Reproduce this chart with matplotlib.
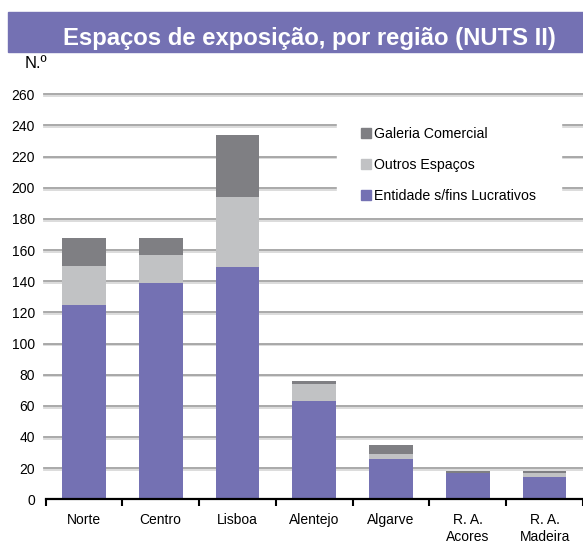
import matplotlib.pyplot as plt
import matplotlib.patheffects as pe
from matplotlib.patches import Rectangle, Patch
import numpy as np

plt.rcParams['font.family'] = ['Liberation Sans', 'DejaVu Sans']

regions = ["Norte", "Centro", "Lisboa", "Alentejo", "Algarve", "R. A.\nAcores", "R. A.\nMadeira"]
entidade = [125, 139, 149, 63, 26, 17, 14]
outros = [25, 18, 45, 11, 3, 0, 3]
galeria = [18, 11, 40, 2, 6, 1, 1]
yticks = list(range(0, 261, 20))

PURPLE = "#7471b3"
LIGHT = "#c1c2c4"
DARK = "#7f7f83"

W, H = 583, 545
fig = plt.figure(figsize=(W / 100, H / 100), dpi=100)
fig.patch.set_facecolor("white")

# title band
fig.patches.append(Rectangle((8 / W, 1 - 52.3 / H), 1, 40.3 / H, transform=fig.transFigure,
                             color=PURPLE, zorder=0))
fig.text(309.5 / W, 1 - 45 / H, "Espaços de exposição, por região (NUTS II)", color="white",
         fontsize=17.2, fontweight="bold", ha="center", va="baseline")
fig.text(25 / W, 1 - 68 / H, "N.º", fontsize=12, ha="left", va="baseline")

ax = fig.add_axes([45.5 / W, 45.7 / H, (W - 45.5) / W, (499.3 - 94.3) / H])
x = np.arange(len(regions))
bw = 0.57
bottom2 = np.array(entidade)
bottom3 = bottom2 + np.array(outros)
ax.bar(x, entidade, bw, color=PURPLE, zorder=3)
ax.bar(x, outros, bw, bottom=bottom2, color=LIGHT, zorder=3)
ax.bar(x, galeria, bw, bottom=bottom3, color=DARK, zorder=3)

for v in yticks[1:]:
    ax.axhline(v, xmin=-0.003, color="#a3a3a3", lw=1.3, zorder=1, clip_on=False,
               path_effects=[pe.SimpleLineShadow(offset=(0, -1.3), shadow_color="#d9d9d9", alpha=1),
                             pe.Normal()])

ax.set_xlim(-0.5, (W - 45.5) / 77.5 - 0.5)
ax.set_ylim(0, 260)
ax.set_yticks(yticks)
ax.tick_params(axis="y", length=0, pad=7.5, labelsize=10)
ax.set_xticks(x)
ax.set_xticklabels(regions, linespacing=1.25)
ax.set_xticks(np.arange(-0.5, len(regions), 1), minor=True)
ax.tick_params(axis="x", which="major", length=0, pad=10, labelsize=10)
ax.tick_params(axis="x", which="minor", length=5, width=1.5, direction="out")
for s in ("top", "right", "left"):
    ax.spines[s].set_visible(False)
ax.spines["bottom"].set_linewidth(1.6)
ax.spines["bottom"].set_zorder(4)

# white box behind the legend, in pixel terms of the axes
def px(xp, yp):
    return ((xp - 45.5) / (W - 45.5), (499.3 - yp) / 405)

bx, by = px(337, 208)
ax.add_patch(Rectangle((bx, by), (561 - 337) / (W - 45.5), (208 - 104) / 405,
                       transform=ax.transAxes, color="white", zorder=2))

handles = [Patch(color=DARK), Patch(color=LIGHT), Patch(color=PURPLE)]
labels = ["Galeria Comercial", "Outros Espaços", "Entidade s/fins Lucrativos"]
leg = ax.legend(handles, labels, loc="upper left", bbox_to_anchor=px(361, 126.5),
                borderaxespad=0, frameon=False, fontsize=10.2, labelspacing=1.2,
                handlelength=0.7, handleheight=0.7, handletextpad=0.25, borderpad=0)
leg.set_zorder(5)

fig.savefig("out.png", dpi=100, facecolor="white")
